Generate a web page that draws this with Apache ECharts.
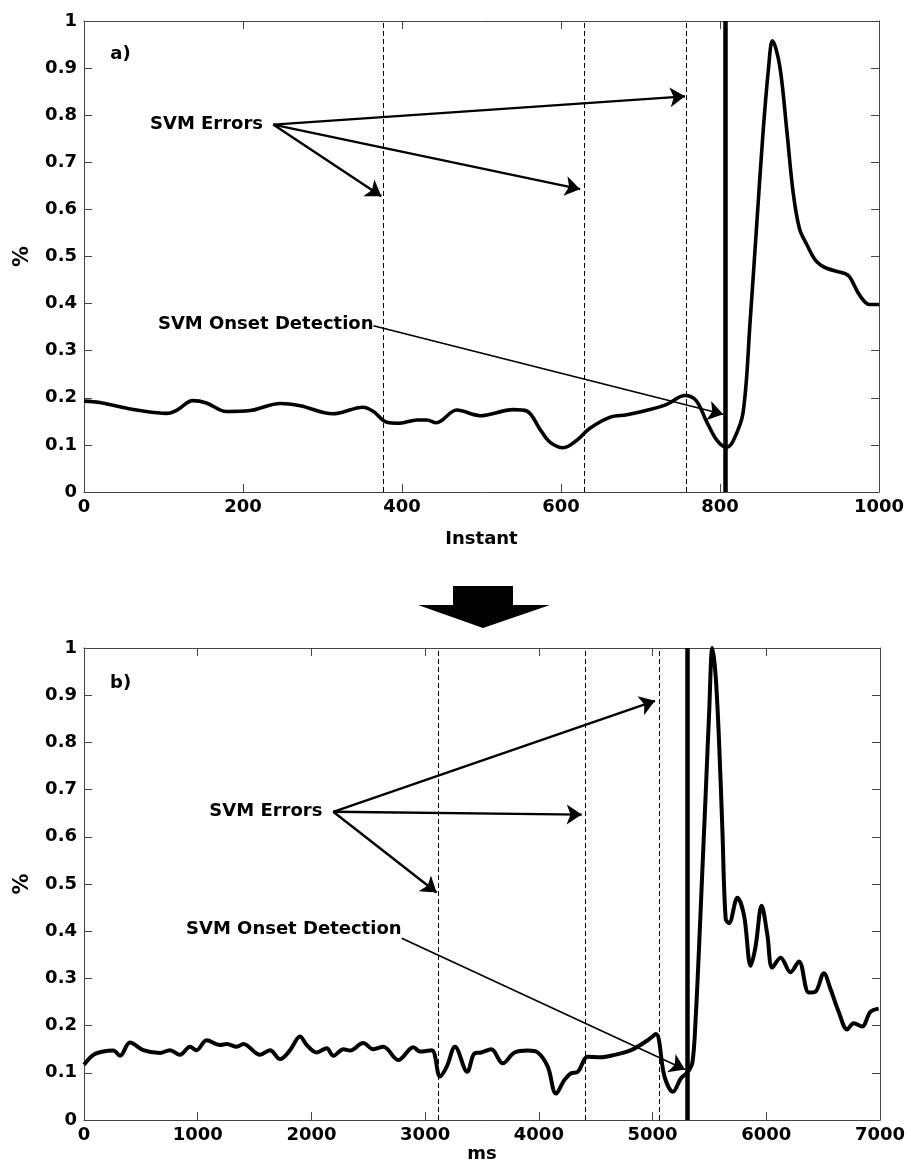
<!DOCTYPE html>
<html>
<head>
<meta charset="utf-8">
<script src="https://cdn.jsdelivr.net/npm/echarts@6/dist/echarts.min.js"></script>
<style>
  html, body { margin: 0; padding: 0; background: #fff; }
  #chart { width: 911px; height: 1166px; }
</style>
</head>
<body>
<div id="chart"></div>
<script>
// a) panel, sampled by instant
const topInstant = [0, 20, 45, 70, 104, 117, 137, 154, 179, 209, 247, 272, 313, 351, 364, 381, 397, 419, 431, 443,
  469, 498, 540, 557, 574, 586, 603, 620, 636, 662, 683, 712, 733, 756, 770, 783, 796, 808, 817, 829,
  838, 846, 854, 861, 866, 875, 884, 892, 900, 909, 921, 934, 957, 963, 976, 988, 1000];
const topValue = [0.193, 0.190, 0.181, 0.173, 0.167, 0.174, 0.194, 0.189, 0.171, 0.173, 0.188, 0.183, 0.166, 0.180, 0.171, 0.148, 0.146, 0.153, 0.153, 0.147,
  0.174, 0.162, 0.175, 0.172, 0.132, 0.106, 0.094, 0.110, 0.135, 0.159, 0.164, 0.175, 0.186, 0.205, 0.194, 0.150, 0.110, 0.095, 0.110, 0.168,
  0.365, 0.563, 0.760, 0.899, 0.958, 0.906, 0.768, 0.636, 0.559, 0.526, 0.490, 0.475, 0.464, 0.457, 0.417, 0.398, 0.398];

// b) panel, sampled by ms
const botMs = [0, 82, 170, 258, 317, 404, 521, 668, 756, 844, 932, 990, 1078, 1196, 1255, 1343, 1402, 1548, 1636, 1724,
  1812, 1900, 1958, 2046, 2134, 2193, 2281, 2339, 2456, 2544, 2632, 2764, 2896, 2955, 3058, 3131, 3190, 3263, 3370, 3434,
  3493, 3581, 3683, 3786, 3903, 3990, 4078, 4151, 4225, 4283, 4342, 4430, 4547, 4665, 4811, 4958, 5029, 5105, 5179, 5252,
  5311, 5351, 5380, 5409, 5438, 5468, 5497, 5526, 5555, 5585, 5614, 5643, 5672, 5746, 5804, 5863, 5906, 5959, 6009, 6053,
  6126, 6213, 6287, 6374, 6433, 6506, 6564, 6637, 6711, 6769, 6842, 6915, 6988];
const botValue = [0.117, 0.138, 0.145, 0.147, 0.136, 0.164, 0.148, 0.142, 0.148, 0.138, 0.155, 0.148, 0.169, 0.159, 0.161, 0.155, 0.161, 0.138, 0.148, 0.129,
  0.148, 0.177, 0.159, 0.143, 0.152, 0.136, 0.150, 0.147, 0.163, 0.150, 0.155, 0.127, 0.154, 0.145, 0.148, 0.092, 0.113, 0.155, 0.102, 0.141,
  0.143, 0.150, 0.120, 0.143, 0.147, 0.143, 0.113, 0.056, 0.085, 0.099, 0.102, 0.134, 0.133, 0.138, 0.148, 0.169, 0.182, 0.092, 0.060, 0.089,
  0.102, 0.123, 0.220, 0.368, 0.530, 0.696, 0.860, 1.000, 0.940, 0.800, 0.614, 0.426, 0.417, 0.471, 0.434, 0.327, 0.368, 0.454, 0.393, 0.323,
  0.344, 0.313, 0.336, 0.270, 0.272, 0.311, 0.278, 0.229, 0.192, 0.205, 0.198, 0.229, 0.236];

// vertical markers
const topErrorLines = [376, 629, 758];
const topOnsetLine = 807;
const botErrorLines = [3112, 4405, 5063];
const botOnsetLine = 5308;

// annotation texts: [x, y, text] (x,y = left edge, middle of the text)
const topTexts = [[33, 0.93, 'a)'], [83, 0.78, 'SVM Errors'], [93, 0.355, 'SVM Onset Detection']];
const botTexts = [[229, 0.926, 'b)'], [1102, 0.655, 'SVM Errors'], [897, 0.405, 'SVM Onset Detection']];

// arrows: [x0, y0, x1, y1]
const topErrorArrows = [[238, 0.78, 374, 0.628], [238, 0.78, 624, 0.643], [238, 0.78, 756, 0.84]];
const topOnsetArrow = [364, 0.353, 804, 0.165];
const botErrorArrows = [[2192, 0.653, 3101, 0.482], [2192, 0.653, 4377, 0.647], [2192, 0.653, 5021, 0.888]];
const botOnsetArrow = [2794, 0.385, 5285, 0.107];

const FONT = 'DejaVu Sans';
const axisColor = '#444';

function zip(xs, ys) { return xs.map((x, i) => [x, ys[i]]); }

function xAxes(grid, max, interval, name, nameGap) {
  const base = {
    gridIndex: grid, type: 'value', min: 0, max: max, interval: interval,
    axisLine: { show: true, onZero: false, lineStyle: { color: axisColor, width: 1 } },
    axisTick: { show: true, inside: true, length: 8, lineStyle: { color: axisColor } },
    splitLine: { show: false }
  };
  return [
    Object.assign({}, base, {
      position: 'bottom', name: name, nameLocation: 'middle', nameGap: nameGap,
      nameTextStyle: { fontFamily: FONT, fontWeight: 'bold', fontSize: 18, color: '#000' },
      axisLabel: {
        fontFamily: FONT, fontWeight: 'bold', fontSize: 18, color: '#000', margin: 6,
        formatter: v => String(v)
      }
    }),
    Object.assign({}, base, { position: 'top', axisLabel: { show: false } })
  ];
}

function yAxes(grid) {
  const base = {
    gridIndex: grid, type: 'value', min: 0, max: 1, interval: 0.1,
    axisLine: { show: true, onZero: false, lineStyle: { color: axisColor, width: 1 } },
    axisTick: { show: true, inside: true, length: 8, lineStyle: { color: axisColor } },
    splitLine: { show: false }
  };
  return [
    Object.assign({}, base, {
      position: 'left', name: '%', nameLocation: 'middle', nameGap: 51,
      nameTextStyle: { fontFamily: FONT, fontWeight: 'bold', fontSize: 21, color: '#000' },
      axisLabel: { fontFamily: FONT, fontWeight: 'bold', fontSize: 18, color: '#000', margin: 7 }
    }),
    Object.assign({}, base, { position: 'right', axisLabel: { show: false } })
  ];
}

function vLines(errs, onset) {
  const d = errs.map(v => ({ xAxis: v, lineStyle: { type: [5, 3], width: 1, color: '#000' } }));
  d.push({ xAxis: onset, lineStyle: { type: 'solid', width: 4.5, color: '#000' } });
  return { silent: true, symbol: 'none', label: { show: false }, animation: false, data: d };
}

function arrows(errs, onset) {
  const mk = (a, w) => [
    { coord: [a[0], a[1]], symbol: 'none', lineStyle: { width: w, color: '#000', type: 'solid', opacity: 1 } },
    { coord: [a[2], a[3]], symbol: 'arrow', symbolSize: 15 }
  ];
  const d = errs.map(a => mk(a, 2.4));
  d.push(mk(onset, 1.7));
  return { silent: true, label: { show: false }, animation: false, itemStyle: { color: '#000', opacity: 1 }, data: d };
}

function annotations(xi, yi, texts, errs, onset) {
  return {
    type: 'scatter', xAxisIndex: xi, yAxisIndex: yi, symbolSize: 0, silent: true,
    itemStyle: { color: '#000', opacity: 1 },
    data: texts.map(t => ({ value: [t[0], t[1]], name: t[2] })),
    label: {
      show: true, position: 'right', distance: 0, formatter: p => p.name,
      fontFamily: FONT, fontWeight: 'bold', fontSize: 18, color: '#000', opacity: 1
    },
    markLine: arrows(errs, onset)
  };
}

const chart = echarts.init(document.getElementById('chart'), null, { renderer: 'canvas' });

const option = {
  animation: false,
  backgroundColor: '#fff',
  grid: [
    { left: 84, top: 21, width: 795, height: 471, containLabel: false },
    { left: 84, top: 648, width: 796, height: 472, containLabel: false }
  ],
  xAxis: [].concat(xAxes(0, 1000, 200, 'Instant', 38), xAxes(1, 7000, 1000, 'ms', 21)),
  yAxis: [].concat(yAxes(0), yAxes(1)),
  graphic: [{
    type: 'polygon',
    shape: { points: [[453, 586], [513, 586], [513, 605], [550, 605], [483, 628], [418, 605], [453, 605]] },
    style: { fill: '#000' }
  }],
  series: [
    {
      type: 'line', xAxisIndex: 0, yAxisIndex: 0, data: zip(topInstant, topValue),
      showSymbol: false, smooth: 0.35, lineStyle: { color: '#000', width: 3.6 },
      markLine: vLines(topErrorLines, topOnsetLine)
    },
    annotations(0, 0, topTexts, topErrorArrows, topOnsetArrow),
    {
      type: 'line', xAxisIndex: 2, yAxisIndex: 2, data: zip(botMs, botValue),
      showSymbol: false, smooth: 0.35, lineStyle: { color: '#000', width: 4 },
      markLine: vLines(botErrorLines, botOnsetLine)
    },
    annotations(2, 2, botTexts, botErrorArrows, botOnsetArrow)
  ]
};

chart.setOption(option);
window.addEventListener('resize', () => chart.resize());
</script>
</body>
</html>
